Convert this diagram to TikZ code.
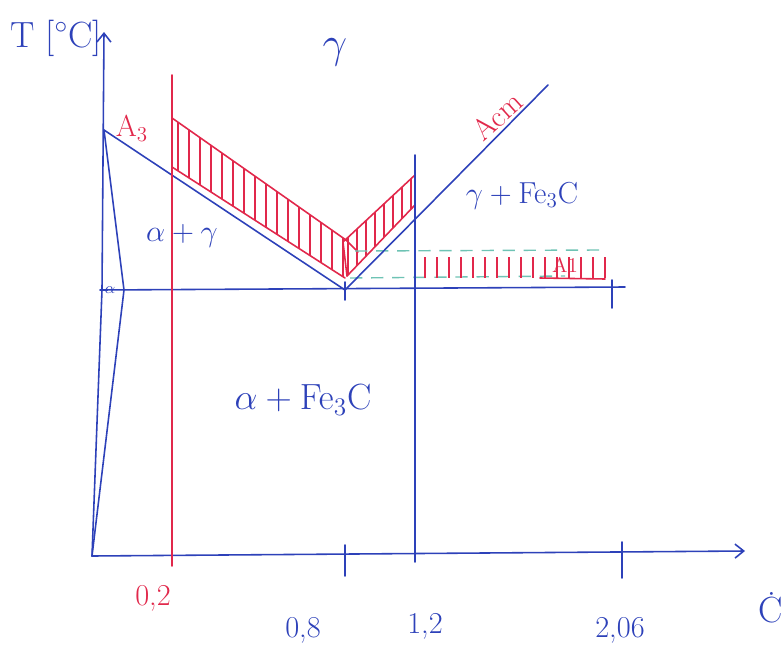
\documentclass[tikz,border=0pt]{standalone}
\usepackage{amsmath,amssymb}
\usepackage{tikz}
\usetikzlibrary{arrows.meta,positioning}
\usepackage{xcolor}

\definecolor{penblue}{RGB}{45,65,185}
\definecolor{penred}{RGB}{225,40,75}
\definecolor{penteal}{RGB}{110,195,180}

\tikzset{
  blueline/.style={penblue, line width=0.9pt, line cap=round, line join=round},
  redline/.style={penred, line width=0.9pt, line cap=round, line join=round},
  hatchline/.style={penred, line width=0.8pt},
  tealdash/.style={penteal, line width=0.8pt, dash pattern=on 7pt off 5pt},
  bluetext/.style={text=penblue, inner sep=1pt},
  redtext/.style={text=penred, inner sep=1pt},
}

\begin{document}
\begin{tikzpicture}[x=0.02cm, y=-0.02cm, >={Straight Barb[length=5pt,width=8pt]}]
  \useasboundingbox (0,0) rectangle (784,649);

  % Define coordinates for the axes and phase lines
  \coordinate (O) at (92,556);
  \coordinate (Ymid) at (102,290);
  \coordinate (Ytop) at (104,32);
  \coordinate (Xend) at (745,551);
  \coordinate (A3pt) at (104,130);
  \coordinate (Spt) at (345,290);
  \coordinate (Acmpt) at (548,85);
  \coordinate (Pl) at (100,290);
  \coordinate (Pr) at (625,287);
  \coordinate (Qpt) at (124,290);
  \coordinate (Ra) at (172,75);
  \coordinate (Rb) at (172,566);
  \coordinate (Va) at (415,155);
  \coordinate (Vb) at (415,562);

  % Hatched band along A3
  \coordinate (Ba) at (172,118);
  \coordinate (Bb) at (346,240);
  \coordinate (Bc) at (345,278);
  \coordinate (Bd) at (172,167);
  \begin{scope}
    \clip (Ba) -- (Bb) -- (Bc) -- (Bd) -- cycle;
    \foreach \x in {178,189,...,345}
      \draw[hatchline] (\x,100) -- (\x,290);
  \end{scope}
  \draw[redline] (Bd) -- (Ba) -- (Bb) -- (358,252);
  \draw[redline] (Bd) -- (Bc);

  % Hatched band along Acm
  \coordinate (Ca) at (343,242);
  \coordinate (Cb) at (415,175);
  \coordinate (Cc) at (415,205);
  \coordinate (Cd) at (347,276);
  \begin{scope}
    \clip (Ca) -- (Cb) -- (Cc) -- (Cd) -- cycle;
    \foreach \x in {348,357,...,412}
      \draw[hatchline] (\x,160) -- (\x,290);
  \end{scope}
  \draw[redline] (Cd) -- (Ca) -- (Cb);
  \draw[redline] (Cd) -- (Cc);

  % Hatched band above A1
  \coordinate (Da) at (355,251);
  \coordinate (Db) at (600,250);
  \coordinate (Dc) at (350,278);
  \coordinate (Dd) at (565,276);
  \draw[tealdash] (Da) -- (Db);
  \draw[tealdash] (Dc) -- (Dd);
  \foreach \x in {425,437,...,605}
    \draw[hatchline] (\x,257) -- (\x,278);
  \coordinate (Ea) at (540,278);
  \coordinate (Eb) at (605,279);
  \draw[redline] (Ea) -- (Eb);

  % Draw axes and phase boundaries
  \draw[blueline,->] (O) -- (Xend);
  \draw[blueline,->] (O) -- (Ymid) -- (Ytop);
  \draw[blueline] (A3pt) -- (Qpt) -- (O);
  \draw[blueline] (A3pt) -- (Spt);
  \draw[blueline] (Spt) -- (Acmpt);
  \draw[blueline] (Pl) -- (Pr);
  \draw[blueline] (Va) -- (Vb);
  \draw[redline] (Ra) -- (Rb);

  % Ticks
  \coordinate (Ta) at (345,545);
  \coordinate (Tb) at (345,576);
  \coordinate (Tc) at (622,542);
  \coordinate (Td) at (622,578);
  \coordinate (Te) at (612,280);
  \coordinate (Tf) at (612,308);
  \coordinate (Tg) at (345,282);
  \coordinate (Th) at (345,300);
  \draw[blueline] (Ta) -- (Tb);
  \draw[blueline] (Tc) -- (Td);
  \draw[blueline] (Te) -- (Tf);
  \draw[blueline] (Tg) -- (Th);

  % Labels
  \node[bluetext] (Tlab) at (56,38) {\huge T [$^\circ$C]};
  \node[bluetext] (Clab) at (771,608) {\huge Ċ};
  \node[redtext] (l02) at (153,598) {\LARGE 0,2};
  \node[bluetext] (l08) at (303,630) {\LARGE 0,8};
  \node[bluetext] (l12) at (425,626) {\LARGE 1,2};
  \node[bluetext] (l206) at (620,630) {\LARGE 2,06};
  \node[bluetext] (gam) at (335,52) {\fontsize{50}{50}\selectfont $\gamma$};
  \node[bluetext] (ag) at (182,236) {\LARGE $\alpha+\gamma$};
  \node[bluetext] (aF) at (303,400) {\huge $\alpha+\mathrm{Fe}_3\mathrm{C}$};
  \node[bluetext] (gF) at (522,196) {\LARGE $\gamma+\mathrm{Fe}_3\mathrm{C}$};
  \node[bluetext] (asm) at (110,290) {\small $\alpha$};
  \node[redtext] (A3lab) at (132,128) {\LARGE A$_3$};
  \node[redtext, rotate=42] (Acmlab) at (497,116) {\LARGE Acm};
  \node[redtext] (A1lab) at (565,265) {\large A1};
\end{tikzpicture}
\end{document}
